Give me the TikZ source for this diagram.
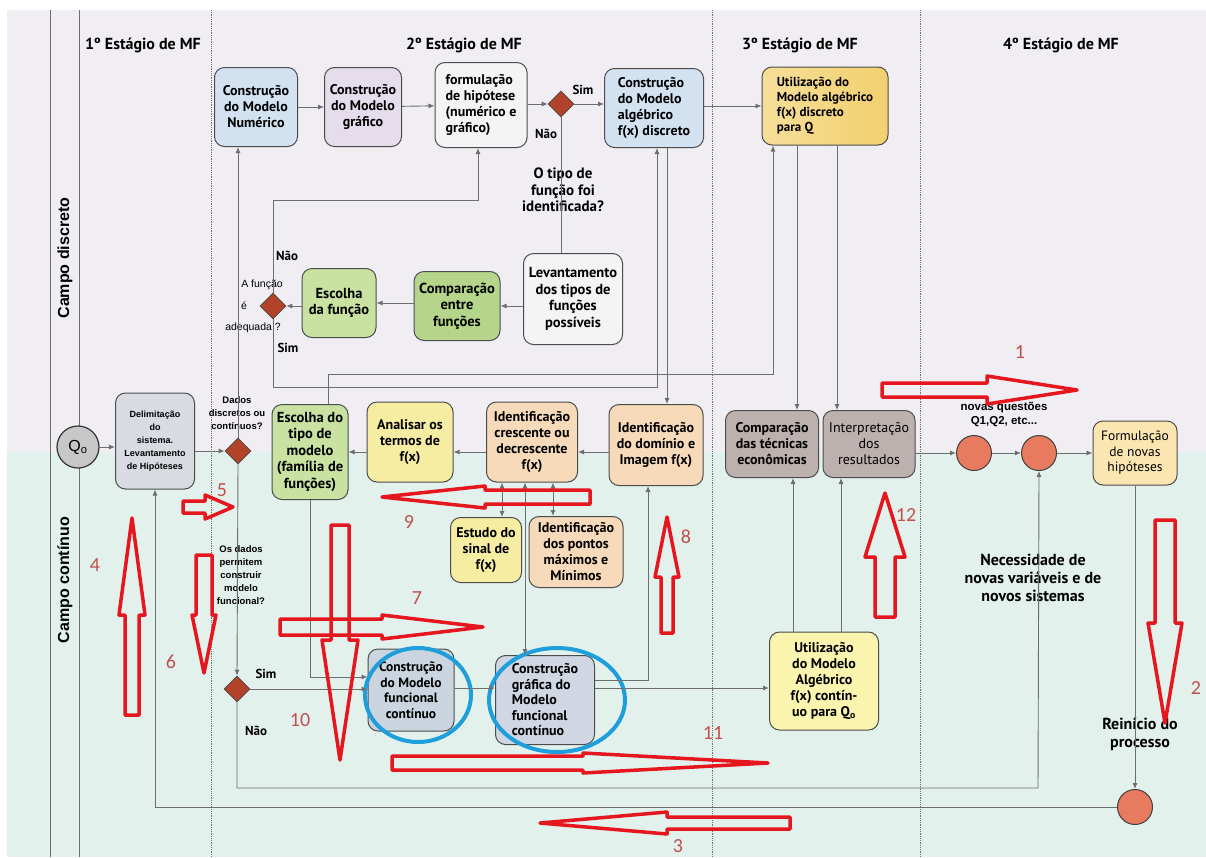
\documentclass[tikz,border=0pt]{standalone}
\usepackage{fontspec}
\setmainfont{PT Sans}
\newfontfamily\arialf{Liberation Sans}
\newfontfamily\calf{Carlito}
\usetikzlibrary{shapes.geometric,arrows.meta,calc}
\definecolor{lav}{HTML}{F1EEF3}
\definecolor{mint}{HTML}{E3F1EC}
\definecolor{blueF}{HTML}{D3E2F0}
\definecolor{lavF}{HTML}{E6DDEC}
\definecolor{whiteF}{HTML}{F5F4F4}
\definecolor{goldF}{HTML}{F2D06E}
\definecolor{greenF}{HTML}{B5D68A}
\definecolor{greenL}{HTML}{C9E2A2}
\definecolor{yellowF}{HTML}{F6ECA2}
\definecolor{peachF}{HTML}{F6DAB9}
\definecolor{brownG}{HTML}{BDB1AF}
\definecolor{lyellow}{HTML}{FAF4AE}
\definecolor{formF}{HTML}{FBE6B2}
\definecolor{delF}{HTML}{D8DCE2}
\definecolor{cfF}{HTML}{CAD5E0}
\definecolor{dia}{HTML}{B0432A}
\definecolor{circF}{HTML}{E87A60}
\definecolor{ell}{HTML}{1E9FDB}
\definecolor{redA}{HTML}{E5161E}
\definecolor{redT}{HTML}{C0504D}
\definecolor{lineG}{HTML}{6E6E6E}
\newcommand\redarr[7]{%
  \draw[redline, shift={(#1,#2)}, rotate=#3] (0,-#6) -- ({#4-#5},-#6) -- ({#4-#5},-#7) -- (#4,0) -- ({#4-#5},#7) -- ({#4-#5},#6) -- (0,#6) -- cycle;}
\begin{document}
\begin{tikzpicture}[x=1pt,y=-1pt,
  box/.style={draw=black!70, line width=1pt, rounded corners=10pt, align=center, inner sep=1pt,
    font=\bfseries\fontsize{14}{16}\selectfont},
  big/.style={font=\bfseries\fontsize{14.5}{16.5}\selectfont},
  dstyle/.style={diamond, draw=black!70, fill=dia, line width=0.6pt, minimum size=26pt, inner sep=0pt},
  circ/.style={circle, draw=black!75, fill=circF, line width=1pt, minimum size=35pt, inner sep=0pt},
  arr/.style={draw=lineG, line width=0.9pt, -{Latex[length=6pt,width=5pt]}},
  arrb/.style={draw=lineG, line width=0.9pt, {Latex[length=6pt,width=5pt]}-{Latex[length=6pt,width=5pt]}},
  ln/.style={draw=lineG, line width=0.9pt},
  lbl/.style={font=\bfseries\fontsize{13}{15}\selectfont, align=center, inner sep=0pt},
  albl/.style={font=\arialf\bfseries\fontsize{9.5}{13}\selectfont, align=center, inner sep=0pt},
  title/.style={font=\bfseries\fontsize{16}{18}\selectfont},
  redline/.style={draw=redA, line width=3.5pt, line join=round},
  rnum/.style={font=\calf\fontsize{20}{20}\selectfont, text=redT, inner sep=0pt},
  ellip/.style={draw=ell, line width=4pt, ellipse, inner sep=0pt}
]
\useasboundingbox (0,0) rectangle (1206,857);
\fill[white] (0,0) rectangle (1206,857);
\fill[lav] (7,10) rectangle (1206,452);
\fill[mint] (7,452) rectangle (1206,857);
\draw[ln] (50,10) -- (50,857);
\draw[ln] (79,10) -- (79,857);
\foreach \xx in {211,712,920} \draw[black!55, densely dotted, line width=0.8pt] (\xx,10) -- (\xx,857);

% stage titles and lanes
\node[title] (s1) at (143,45) {1º Estágio de MF};
\node[title] (s2) at (464,45) {2º Estágio de MF};
\node[title] (s3) at (800,45) {3º Estágio de MF};
\node[title] (s4) at (1061,45) {4º Estágio de MF};
\node[font=\arialf\bfseries\fontsize{16}{18}\selectfont, rotate=90] (campoD) at (65,258) {Campo discreto};
\node[font=\arialf\bfseries\fontsize{16}{18}\selectfont, rotate=90] (campoC) at (65,580) {Campo contínuo};

% top row
\node[box, fill=blueF, minimum width=83pt, minimum height=79pt] (num) at (256,107) {Construção\\do Modelo\\Numérico};
\node[box, fill=lavF, minimum width=77pt, minimum height=79pt] (graf) at (363,107) {Construção\\do Modelo\\gráfico};
\node[box, fill=whiteF, minimum width=92pt, minimum height=85pt, align=left] (form) at (481,105) {formulação\\de hipótese\\(numérico e\\gráfico)};
\node[dstyle] (d1) at (561,104) {};
\node[box, fill=blueF, minimum width=99pt, minimum height=79pt, align=left] (alg) at (654,108) {Construção\\do Modelo\\algébrico\\f(x) discreto};
\node[box, left color=goldF!70!white, right color=goldF, minimum width=126pt, minimum height=78pt, align=left, font=\bfseries\fontsize{13}{15}\selectfont] (utilD) at (825,106) {Utilização do\\Modelo algébrico\\f(x) discreto\\para Q};
\node[lbl] (sim1) at (583,90) {Sim};
\node[lbl] (nao1) at (546,134) {Não};
\node[lbl, font=\bfseries\fontsize{15}{16.5}\selectfont] (tipo) at (563,190) {O tipo de\\função foi\\identificada?};

\node[box, big, fill=whiteF, minimum width=99pt, minimum height=91pt] (lev) at (573,299) {Levantamento\\dos tipos de\\funções\\possíveis};
\node[box, big, fill=greenF, minimum width=86pt, minimum height=69pt] (compF) at (457,306) {Comparação\\entre\\funções};
\node[box, big, fill=greenL, minimum width=74pt, minimum height=69pt] (escF) at (339,303) {Escolha\\da função};
\node[dstyle] (d2) at (273,306) {};
\node[font=\arialf\fontsize{10.5}{12}\selectfont, inner sep=0pt] (af1) at (262,285) {A função};
\node[font=\arialf\fontsize{10.5}{12}\selectfont, inner sep=0pt] (af2) at (244,306) {é};
\node[font=\arialf\fontsize{10.5}{12}\selectfont, inner sep=0pt] (af3) at (253,328) {adequada ?};
\node[lbl] (nao2) at (287,256) {Não};
\node[lbl] (sim2) at (288,348) {Sim};

% middle row
\node[circle, draw=black!80, fill=black!22, line width=1.2pt, minimum size=42pt, inner sep=0pt, font=\arialf\fontsize{16}{16}\selectfont] (q0) at (78,447) {Q\textsubscript{o}};
\node[box, fill=delF, minimum width=79pt, minimum height=96pt, font=\arialf\bfseries\fontsize{9}{13}\selectfont] (delim) at (155,441) {Delimitação\\do\\sistema.\\Levantamento\\de Hipóteses};
\node[dstyle] (d3) at (238,451) {};
\node[albl] (dados) at (237,413) {Dados\\discretos ou\\contínuos?};
\node[box, big, fill=greenL, minimum width=76pt, minimum height=95pt] (escT) at (310,452) {Escolha do\\tipo de\\modelo\\(família de\\funções)};
\node[box, fill=yellowF, minimum width=86pt, minimum height=80pt] (anal) at (410,442) {Analisar os\\termos de\\f(x)};
\node[box, fill=peachF, minimum width=91pt, minimum height=80pt] (cres) at (532,442) {Identificação\\crescente ou\\decrescente\\f(x)};
\node[box, fill=peachF, minimum width=94pt, minimum height=81pt] (dom) at (656,445) {Identificação\\do domínio e\\Imagem f(x)};
\node[box, fill=brownG, minimum width=93pt, minimum height=67pt] (compT) at (772,444) {Comparação\\das técnicas\\econômicas};
\node[box, fill=brownG, minimum width=92pt, minimum height=67pt, font=\fontsize{14}{16}\selectfont] (interp) at (869,444) {Interpretação\\dos\\resultados};
\node[circ] (c1) at (974,453) {};
\node[circ] (c2) at (1039,453) {};
\node[font=\arialf\bfseries\fontsize{11.5}{14}\selectfont, align=center, inner sep=0pt] (novas) at (1004,414) {novas questões\\Q1,Q2, etc...};
\node[box, fill=formF, minimum width=84pt, minimum height=64pt, font=\fontsize{13.5}{15.5}\selectfont] (formN) at (1135,453) {Formulação\\de novas\\hipóteses};

% lower
\node[box, fill=yellowF, minimum width=71pt, minimum height=65pt] (est) at (486,550) {Estudo do\\sinal de\\f(x)};
\node[box, fill=peachF, minimum width=94pt, minimum height=71pt] (pont) at (576,552) {Identificação\\dos pontos\\máximos e\\Mínimos};
\node[albl] (osdados) at (241,575) {Os dados\\permitem\\construir\\modelo\\funcional?};
\node[dstyle] (d4) at (237,689) {};
\node[lbl] (sim4) at (266,674) {Sim};
\node[lbl] (nao4) at (256,731) {Não};
\node[box, fill=cfF, minimum width=86pt, minimum height=82pt, font=\bfseries\fontsize{13.5}{15.5}\selectfont] (cf) at (411,690) {Construção\\do Modelo\\funcional\\contínuo};
\node[box, fill=cfF!80!lavF, minimum width=99pt, minimum height=89pt, align=left, font=\bfseries\fontsize{14}{15.5}\selectfont] (cg) at (545,700) {Construção\\gráfica do\\Modelo\\funcional\\contínuo};
\node[box, fill=lyellow, minimum width=109pt, minimum height=98pt] (utilC) at (824,681) {Utilização\\do Modelo\\Algébrico\\f(x) contín-\\uo para Q\textsubscript{o}};
\node[lbl, font=\bfseries\fontsize{16}{18}\selectfont] (neces) at (1033,578) {Necessidade de\\novas variáveis e de\\novos sistemas};
\node[lbl, font=\bfseries\fontsize{16}{18}\selectfont] (rein) at (1140,734) {Reinício do\\processo};
\node[circ] (endc) at (1135,807) {};

% ellipses
\node[ellip, minimum width=106pt, minimum height=94pt] (e1) at (418,695) {};
\node[ellip, minimum width=136pt, minimum height=104pt] (e2) at (557,700) {};

% helper coordinates
\coordinate (row) at (0,452);
\coordinate (j1) at (478,200);
\coordinate (j2) at (657,387);
\coordinate (j3) at (328,374);
\coordinate (j4) at (773,374);
\coordinate (j5) at (667,300);
\coordinate (j6) at (797,300);
\coordinate (j7) at (837,300);
\coordinate (j8) at (1038,788);
\coordinate (j9) at (0,677);
\coordinate (j10) at (648,680);
\coordinate (j11) at (0,688);
\coordinate (j12) at (793,600);
\coordinate (j13) at (841,600);
\coordinate (x1) at (502,0);
\coordinate (x2) at (525,0);
\coordinate (x3) at (553,0);

% connectors
\draw[arr] (q0.east) -- (q0.east -| delim.west);
\draw[arr] (delim.east |- d3) -- (d3.west);
\draw[arr] (d3.north) -- (d3.north |- num.south);
\draw[arr] (d3.south) -- (d4.north);
\draw[arr] (num) -- (graf);
\draw[arr] (graf) -- (form);
\draw[arr] (form.east |- d1) -- (d1.west);
\draw[arr] (d1.east) -- (d1.east -| alg.west);
\draw[arr] (alg.east |- utilD) -- (utilD.west);
\draw[ln] (d1.south) -- (d1.south |- lev.north);
\draw[arr] (lev.west |- compF) -- (compF.east);
\draw[arr] (compF.west |- escF) -- (escF.east);
\draw[arr] (escF.west |- d2) -- (d2.east);
\draw[arr] (d2.north) |- (j1) -- (j1 |- form.south);
\draw[arr] (d2.south) |- (j2) -- (j2 |- alg.south);
\draw[arr] (j3 |- escT.north) -- (j3) -- (j4) -- (j4 |- utilD.south);
\draw[arr] (j5 |- alg.south) -- (j5 |- dom.north);
\draw[arr] (j6 |- utilD.south) -- (j6 |- compT.north);
\draw[arr] (j7 |- utilD.south) -- (j7 |- interp.north);
\draw[arr] (dom.west |- row) -- (cres.east |- row);
\draw[arr] (cres.west |- row) -- (anal.east |- row);
\draw[arr] (anal.west |- row) -- (escT.east |- row);
\draw[arr] (interp.east |- c1) -- (c1.west);
\draw[arr] (c1) -- (c2);
\draw[arr] (c2.east) -- (c2.east -| formN.west);
\draw[arr] (formN.south) -- (endc.north);
\draw[arr] (endc.west) -| (delim.south);
\draw[arr] (d4.south) |- (j8) -- (c2.south);
\draw[arr] (escT.south) |- (cf.west |- j9);
\draw[arr] (d4.east) -- (d4.east -| cf.west);
\draw[arr] (cf.east |- j11) -- (cg.west |- j11);
\draw[arr] (cg.east |- j10) -- (j10) -- (j10 |- dom.south);
\draw[arr] (cg.east |- j11) -- (utilC.west |- j11);
\draw[arr] (j12 |- utilC.north) -- (j12 |- compT.south);
\draw[arr] (j13 |- utilC.north) -- (j13 |- interp.south);
\draw[arrb] (x1 |- cres.south) -- (x1 |- est.north);
\draw[arrb] (x2 |- cres.south) -- (x2 |- cg.north);
\draw[arrb] (x3 |- cres.south) -- (x3 |- pont.north);

% red annotation arrows
\redarr{882}{390}{0}{195}{90}{7}{14}
\redarr{1165}{520}{-90}{203}{100}{10}{17}
\redarr{790}{823}{180}{250}{127}{6}{11}
\redarr{132}{715}{90}{197}{97}{7}{13}
\redarr{183}{507}{0}{50}{28}{6}{12}
\redarr{204}{555}{-90}{118}{58}{8}{12}
\redarr{280}{627}{0}{203}{101}{8}{12}
\redarr{667}{633}{90}{116}{60}{6}{12}
\redarr{590}{497}{180}{208}{103}{7}{11}
\redarr{340}{525}{-90}{235}{120}{9}{18}
\redarr{392}{763}{0}{376}{185}{7}{10}
\redarr{885}{617}{90}{124}{64}{10}{20}
\node[rnum] (r1) at (1020,352) {1};
\node[rnum] (r2) at (1196,688) {2};
\node[rnum] (r3) at (678,846) {3};
\node[rnum] (r4) at (95,565) {4};
\node[rnum] (r5) at (222,490) {5};
\node[rnum] (r6) at (171,662) {6};
\node[rnum] (r7) at (417,598) {7};
\node[rnum] (r8) at (686,537) {8};
\node[rnum] (r9) at (409,522) {9};
\node[rnum] (r10) at (300,720) {10};
\node[rnum] (r11) at (713,733) {11};
\node[rnum] (r12) at (906,515) {12};
\end{tikzpicture}
\end{document}
